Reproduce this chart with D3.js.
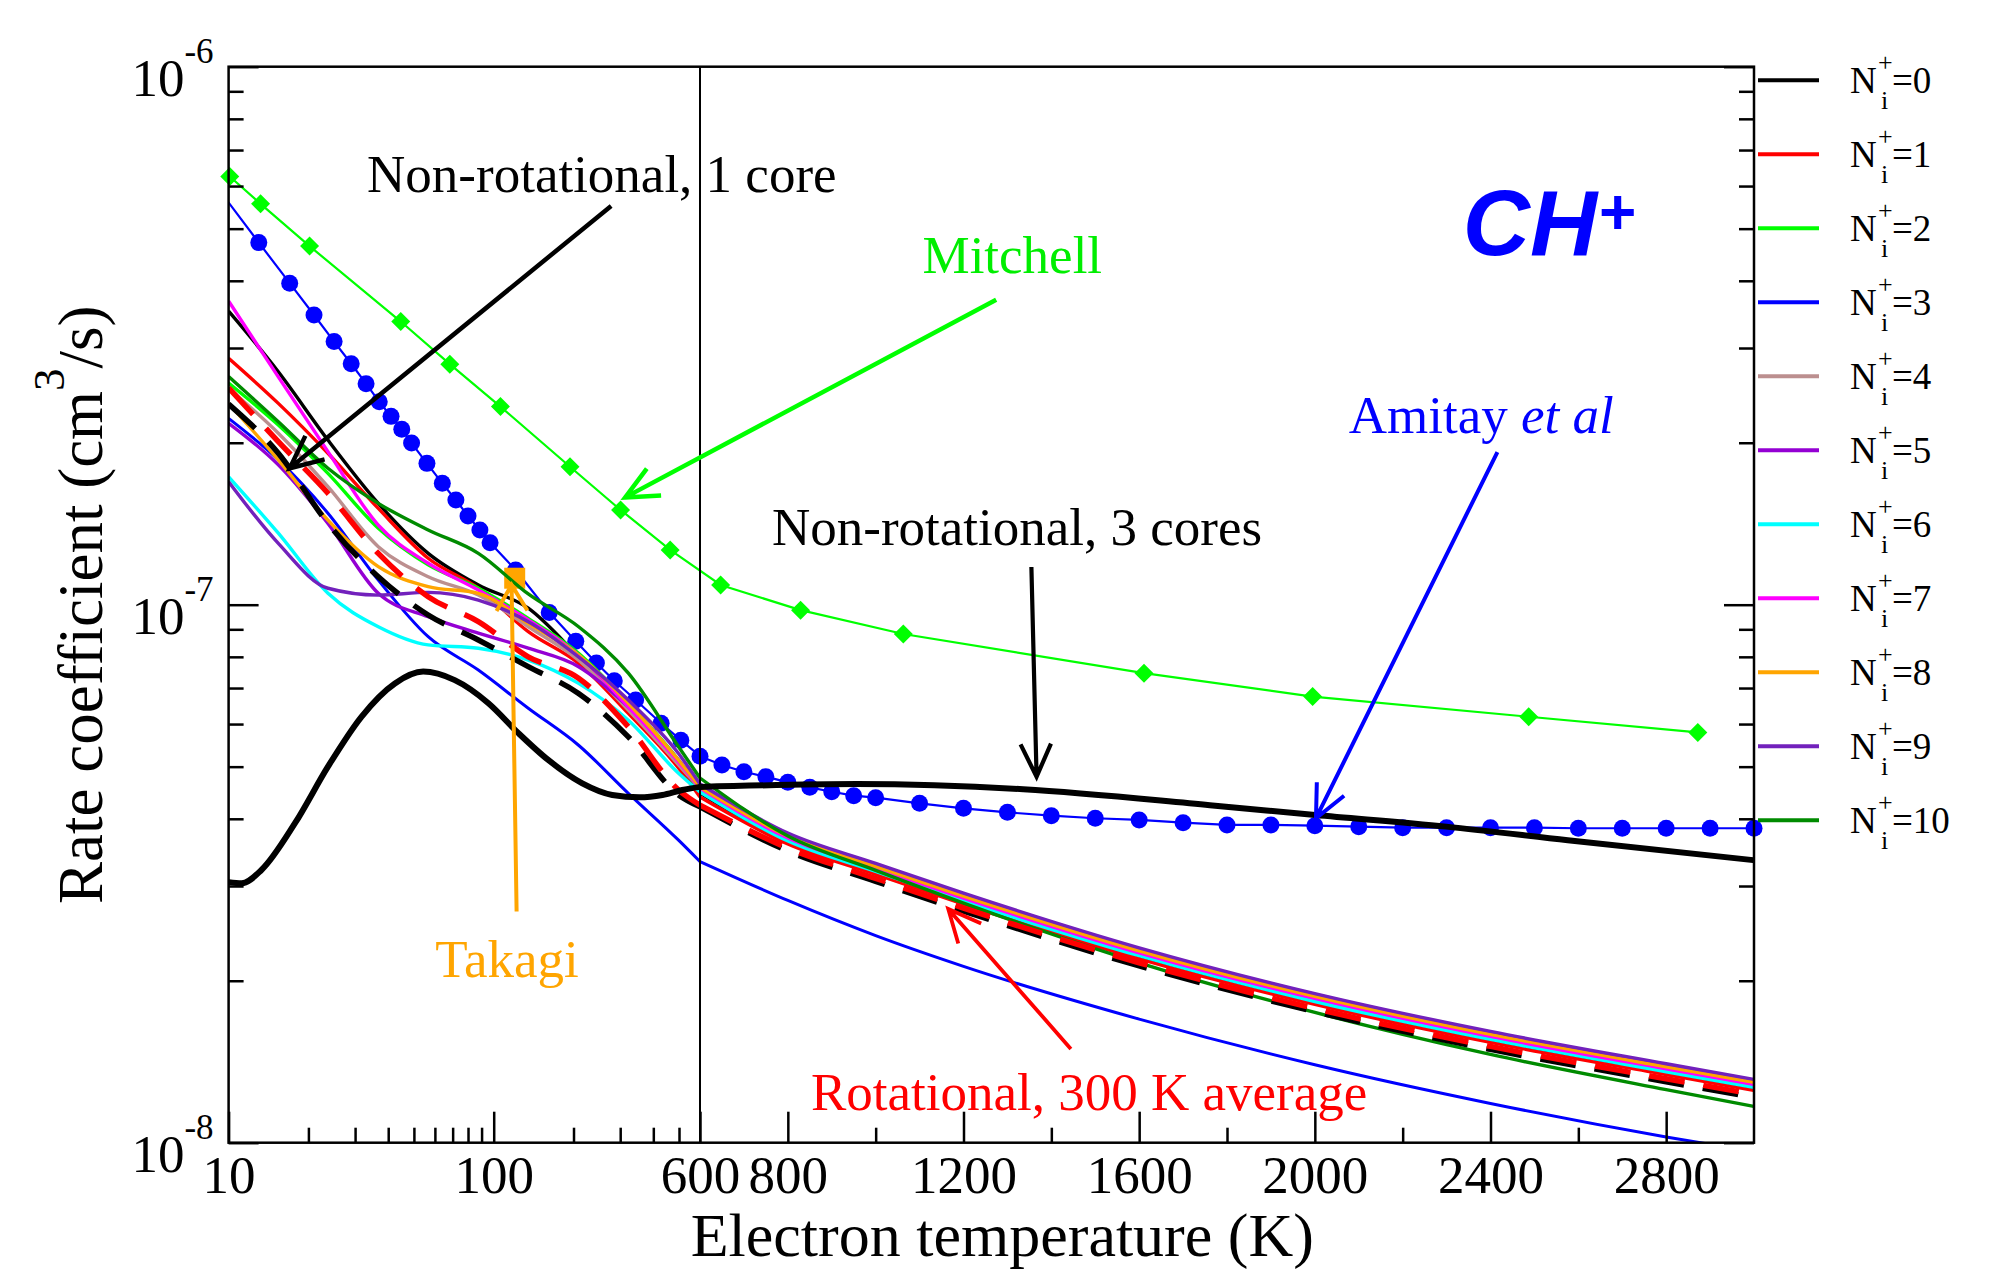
<!DOCTYPE html>
<html>
<head>
<meta charset="utf-8">
<script src="https://cdn.jsdelivr.net/npm/d3@7"></script>
<style>
  html, body { margin: 0; padding: 0; background: #fff; }
  svg { display: block; }
</style>
</head>
<body>
<svg id="chart" width="1990" height="1270"></svg>
<script>
// ---------------- data ----------------
// Electron temperature grid (K) for the N_i^+ curves
const temps = [10, 15.4, 23.7, 36.7, 56.6, 87.5, 135, 209, 322, 498, 600,
               800, 1000, 1200, 1600, 2000, 2400, 2800, 3000];

// Rate coefficients (cm^3/s) for each initial rotational level N_i^+
const rateN0  = [3.513e-7, 2.71e-7, 2.023e-7, 1.543e-7, 1.246e-7, 1.088e-7, 9.85e-8, 8.0e-8, 6.42e-8, 5.04e-8, 4.467e-8,
                 3.622e-8, 3.181e-8, 2.801e-8, 2.216e-8, 1.822e-8, 1.549e-8, 1.349e-8, 1.262e-8];
const rateN1  = [2.871e-7, 2.367e-7, 1.912e-7, 1.51e-7, 1.22e-7, 1.073e-7, 8.91e-8, 7.78e-8, 6.28e-8, 4.97e-8, 4.39e-8,
                 3.591e-8, 3.154e-8, 2.777e-8, 2.197e-8, 1.807e-8, 1.536e-8, 1.338e-8, 1.251e-8];
const rateN2  = [2.582e-7, 2.158e-7, 1.754e-7, 1.387e-7, 1.186e-7, 1.073e-7, 9.43e-8, 8.12e-8, 6.56e-8, 5.14e-8, 4.525e-8,
                 3.653e-8, 3.208e-8, 2.825e-8, 2.235e-8, 1.838e-8, 1.563e-8, 1.361e-8, 1.273e-8];
const rateN3  = [2.22e-7, 1.858e-7, 1.479e-7, 1.111e-7, 8.72e-8, 7.56e-8, 6.42e-8, 5.48e-8, 4.46e-8, 3.65e-8, 3.33e-8,
                 2.82e-8, 2.426e-8, 2.127e-8, 1.697e-8, 1.396e-8, 1.183e-8, 1.025e-8, 9.62e-9];
const rateN4  = [2.525e-7, 2.083e-7, 1.657e-7, 1.282e-7, 1.127e-7, 1.042e-7, 9.10e-8, 7.89e-8, 6.37e-8, 5.04e-8, 4.545e-8,
                 3.669e-8, 3.222e-8, 2.837e-8, 2.245e-8, 1.846e-8, 1.569e-8, 1.367e-8, 1.278e-8];
const rateN5  = [2.174e-7, 1.819e-7, 1.416e-7, 1.05e-7, 9.50e-8, 8.85e-8, 8.30e-8, 7.67e-8, 6.46e-8, 5.14e-8, 4.60e-8,
                 3.748e-8, 3.292e-8, 2.899e-8, 2.293e-8, 1.886e-8, 1.603e-8, 1.396e-8, 1.306e-8];
const rateN6  = [1.729e-7, 1.358e-7, 1.05e-7, 9.10e-8, 8.42e-8, 8.30e-8, 7.89e-8, 7.14e-8, 6.10e-8, 4.86e-8, 4.487e-8,
                 3.637e-8, 3.194e-8, 2.813e-8, 2.226e-8, 1.830e-8, 1.556e-8, 1.355e-8, 1.267e-8];
const rateN7  = [3.667e-7, 2.652e-7, 1.925e-7, 1.406e-7, 1.194e-7, 1.065e-7, 9.37e-8, 8.06e-8, 6.46e-8, 5.105e-8, 4.564e-8,
                 3.684e-8, 3.235e-8, 2.849e-8, 2.254e-8, 1.854e-8, 1.576e-8, 1.372e-8, 1.284e-8];
const rateN8  = [2.366e-7, 1.858e-7, 1.436e-7, 1.177e-7, 1.08e-7, 1.05e-7, 9.23e-8, 8.06e-8, 6.56e-8, 5.14e-8, 4.584e-8,
                 3.716e-8, 3.263e-8, 2.874e-8, 2.274e-8, 1.870e-8, 1.590e-8, 1.384e-8, 1.295e-8];
const rateN9  = [1.693e-7, 1.30e-7, 1.073e-7, 1.042e-7, 1.054e-7, 1.020e-7, 9.30e-8, 8.0e-8, 6.65e-8, 5.29e-8, 4.642e-8,
                 3.763e-8, 3.305e-8, 2.910e-8, 2.303e-8, 1.893e-8, 1.610e-8, 1.402e-8, 1.311e-8];
const rateN10 = [2.655e-7, 2.188e-7, 1.793e-7, 1.543e-7, 1.377e-7, 1.246e-7, 1.047e-7, 9.10e-8, 7.46e-8, 5.445e-8, 4.763e-8,
                 3.716e-8, 3.208e-8, 2.789e-8, 2.16e-8, 1.746e-8, 1.459e-8, 1.255e-8, 1.168e-8];

// Non-rotational, 1 core (black dashed) and rotational 300 K average (red dashed)
const rateNonRot1Core = [2.36e-7, 1.912e-7, 1.416e-7, 1.127e-7, 9.57e-8, 8.60e-8, 7.67e-8, 6.84e-8, 5.68e-8, 4.43e-8, 4.21e-8,
                         3.485e-8, 3.060e-8, 2.695e-8, 2.132e-8, 1.753e-8, 1.491e-8, 1.298e-8, 1.214e-8];
const rateRot300K     = [2.53e-7, 2.01e-7, 1.611e-7, 1.246e-7, 1.035e-7, 9.30e-8, 8.0e-8, 7.30e-8, 5.93e-8, 4.525e-8, 4.24e-8,
                         3.53e-8, 3.10e-8, 2.73e-8, 2.16e-8, 1.776e-8, 1.51e-8, 1.315e-8, 1.23e-8];

// Non-rotational, 3 cores (thick black)
const cores3T = [10, 11.2, 13.3, 17.8, 23.7, 31.7, 42.4, 54.2, 71.3, 95.5, 124, 161, 215, 280, 354, 433, 514, 600,
                 957, 1336, 1761, 2001, 2299, 2576, 3000];
const cores3K = [3.05e-8, 3.035e-8, 3.213e-8, 3.925e-8, 5.0e-8, 6.19e-8, 7.14e-8, 7.51e-8, 7.24e-8, 6.56e-8, 5.77e-8,
                 5.14e-8, 4.66e-8, 4.43e-8, 4.385e-8, 4.43e-8, 4.525e-8, 4.585e-8,
                 4.64e-8, 4.54e-8, 4.24e-8, 4.065e-8, 3.868e-8, 3.65e-8, 3.35e-8];

// Mitchell (green diamonds)
const mitchellT = [10.1, 13.2, 20.2, 44.6, 68.3, 106, 194, 301, 463, 647, 829, 1063, 1611, 1995, 2487, 2872];
const mitchellK = [6.25e-7, 5.56e-7, 4.64e-7, 3.36e-7, 2.80e-7, 2.335e-7, 1.805e-7, 1.50e-7, 1.264e-7, 1.088e-7,
                   9.77e-8, 8.82e-8, 7.46e-8, 6.75e-8, 6.19e-8, 5.79e-8];

// Amitay et al (blue circles)
const amitayT = [9, 13, 17, 21, 25, 29, 33, 37, 41, 45, 49, 56, 64, 72, 80, 88.7, 96.9,
                 121, 162, 204, 244, 285, 343, 428, 508, 600,
                 650, 700, 750, 800, 850, 900, 950, 1000,
                 1100, 1200, 1300, 1400, 1500, 1600, 1700, 1800, 1900, 2000,
                 2100, 2200, 2300, 2400, 2500, 2600, 2700, 2800, 2900, 3000];
const amitayK = [5.99e-7, 4.71e-7, 3.96e-7, 3.455e-7, 3.084e-7, 2.805e-7, 2.575e-7, 2.383e-7, 2.239e-7, 2.119e-7, 1.997e-7,
                 1.831e-7, 1.681e-7, 1.565e-7, 1.462e-7, 1.377e-7, 1.304e-7,
                 1.160e-7, 9.67e-8, 8.55e-8, 7.79e-8, 7.22e-8, 6.65e-8, 6.02e-8, 5.60e-8, 5.23e-8,
                 5.035e-8, 4.893e-8, 4.79e-8, 4.676e-8, 4.577e-8, 4.491e-8, 4.416e-8, 4.378e-8,
                 4.274e-8, 4.183e-8, 4.112e-8, 4.053e-8, 4.009e-8, 3.98e-8, 3.934e-8, 3.896e-8, 3.896e-8, 3.884e-8,
                 3.868e-8, 3.851e-8, 3.851e-8, 3.851e-8, 3.851e-8, 3.841e-8, 3.841e-8, 3.841e-8, 3.841e-8, 3.841e-8];

// Takagi (single orange square)
const takagiT = [120];
const takagiK = [1.12e-7];

// Axis ticks
const xLogMajor = [10, 100, 600];
const xLogMinor = [20, 30, 40, 50, 60, 70, 80, 90, 200, 300, 400, 500];
const xLinMajor = [800, 1200, 1600, 2000, 2400, 2800];
const xLinMinor = [1000, 1400, 1800, 2200, 2600];
const yMajor = [1e-8, 1e-7, 1e-6];
const yMinor = [2e-8, 3e-8, 4e-8, 5e-8, 6e-8, 7e-8, 8e-8, 9e-8, 2e-7, 3e-7, 4e-7, 5e-7, 6e-7, 7e-7, 8e-7, 9e-7];

// Legend entries (N_i^+ value, color)
const levelLabels = ["0", "1", "2", "3", "4", "5", "6", "7", "8", "9", "10"];
const levelColors = ["#000000", "#ff0000", "#00ff00", "#0000ff", "#bc8f8f", "#9400d3",
                     "#00ffff", "#ff00ff", "#ffa500", "#7221bc", "#008b00"];
const levelRates = [rateN0, rateN1, rateN2, rateN3, rateN4, rateN5, rateN6, rateN7, rateN8, rateN9, rateN10];

// ---------------- layout & scales ----------------
const plot = { left: 228.6, split: 700, right: 1754, top: 66.7, bottom: 1142.7 };
const serif = '"Liberation Serif","Times New Roman",Times,serif';

// broken x axis: logarithmic up to 600 K, linear above
const xLog = d3.scaleLog().domain([10, 600]).range([plot.left, plot.split]);
const xLin = d3.scaleLinear().domain([600, 3000]).range([plot.split, plot.right]);
const x = T => (T <= 600 ? xLog(T) : xLin(T));
const y = d3.scaleLog().domain([1e-8, 1e-6]).range([plot.bottom, plot.top]);

const svg = d3.select("#chart");
svg.append("defs").append("clipPath").attr("id", "plotClip")
  .append("rect")
  .attr("x", plot.left).attr("y", plot.top)
  .attr("width", plot.right - plot.left).attr("height", plot.bottom - plot.top);

const smooth = d3.line().x(d => x(d[0])).y(d => y(d[1])).curve(d3.curveMonotoneX);
const straight = d3.line().x(d => x(d[0])).y(d => y(d[1]));

// smooth path drawn as two pieces so the corner at the axis break stays sharp
function brokenPath(T, K) {
  const pts = T.map((t, i) => [t, K[i]]);
  const lo = pts.filter(p => p[0] <= 600);
  const hi = pts.filter(p => p[0] >= 600);
  return (lo.length > 1 ? smooth(lo) : "") + (hi.length > 1 ? smooth(hi) : "");
}

const lines = svg.append("g").attr("clip-path", "url(#plotClip)").attr("fill", "none");
const marks = svg.append("g");

// Mitchell
lines.append("path")
  .attr("d", straight(mitchellT.map((t, i) => [t, mitchellK[i]])))
  .attr("stroke", "#00ff00").attr("stroke-width", 2.2);
marks.selectAll("path.mitchell")
  .data(mitchellT.map((t, i) => [t, mitchellK[i]]))
  .join("path").attr("class", "mitchell")
  .attr("d", d => { const px = x(d[0]), py = y(d[1]), r = 9.5;
    return `M${px},${py - r}L${px + r},${py}L${px},${py + r}L${px - r},${py}Z`; })
  .attr("fill", "#00ff00");

// Amitay et al
lines.append("path")
  .attr("d", straight(amitayT.map((t, i) => [t, amitayK[i]])))
  .attr("stroke", "#0000ff").attr("stroke-width", 2.2);
marks.selectAll("circle.amitay")
  .data(amitayT.map((t, i) => [t, amitayK[i]]).filter(d => d[0] >= 10 && d[0] <= 3000))
  .join("circle").attr("class", "amitay")
  .attr("cx", d => x(d[0])).attr("cy", d => y(d[1])).attr("r", 8.5)
  .attr("fill", "#0000ff");

const curves = svg.append("g").attr("clip-path", "url(#plotClip)").attr("fill", "none");

// N_i^+ = 0..10
levelRates.forEach((K, i) => {
  curves.append("path")
    .attr("d", brokenPath(temps, K))
    .attr("stroke", levelColors[i])
    .attr("stroke-width", i === 3 ? 3 : 3.4)
    .attr("stroke-linejoin", "round");
});

// Non-rotational, 1 core
curves.append("path")
  .attr("d", brokenPath(temps, rateNonRot1Core))
  .attr("stroke", "#000").attr("stroke-width", 5.5)
  .attr("stroke-dasharray", "36,19");

// Rotational, 300 K average
curves.append("path")
  .attr("d", brokenPath(temps, rateRot300K))
  .attr("stroke", "#ff0000").attr("stroke-width", 5.5)
  .attr("stroke-dasharray", "36,19");

// Non-rotational, 3 cores
curves.append("path")
  .attr("d", brokenPath(cores3T, cores3K))
  .attr("stroke", "#000").attr("stroke-width", 6)
  .attr("stroke-linejoin", "round");

// Takagi
marks.selectAll("rect.takagi")
  .data(takagiT.map((t, i) => [t, takagiK[i]]))
  .join("rect").attr("class", "takagi")
  .attr("x", d => x(d[0]) - 10.5).attr("y", d => y(d[1]) - 10.5)
  .attr("width", 21).attr("height", 21)
  .attr("fill", "#ffa500");

// ---------------- axes ----------------
const axes = svg.append("g");
function tidy(sel) {
  sel.select(".domain").remove();
  sel.selectAll(".tick line").attr("stroke", "#000").attr("stroke-width", 2.5);
  sel.selectAll(".tick text").attr("font-family", serif).attr("font-size", 53).attr("fill", "#000");
}

// bottom: minor then major ticks on both parts of the broken axis
axes.append("g").attr("transform", `translate(0,${plot.bottom})`)
  .call(d3.axisBottom(xLog).tickValues(xLogMinor).tickSize(-15).tickSizeOuter(0).tickFormat(""))
  .call(tidy);
axes.append("g").attr("transform", `translate(0,${plot.bottom})`)
  .call(d3.axisBottom(xLin).tickValues(xLinMinor).tickSize(-15).tickSizeOuter(0).tickFormat(""))
  .call(tidy);
axes.append("g").attr("transform", `translate(0,${plot.bottom})`)
  .call(d3.axisBottom(xLog).tickValues(xLogMajor).tickSize(-31).tickSizeOuter(0).tickPadding(13).tickFormat(d3.format("d")))
  .call(tidy);
axes.append("g").attr("transform", `translate(0,${plot.bottom})`)
  .call(d3.axisBottom(xLin).tickValues(xLinMajor).tickSize(-31).tickSizeOuter(0).tickPadding(13).tickFormat(d3.format("d")))
  .call(tidy);

// left and right: decade labels as 10 with superscript exponent
axes.append("g").attr("transform", `translate(${plot.left},0)`)
  .call(d3.axisLeft(y).tickValues(yMinor).tickSize(-15).tickSizeOuter(0).tickFormat(""))
  .call(tidy);
axes.append("g").attr("transform", `translate(${plot.left},0)`)
  .call(d3.axisLeft(y).tickValues(yMajor).tickSize(-30).tickSizeOuter(0).tickPadding(15).tickFormat(""))
  .call(tidy)
  .selectAll(".tick text")
  .attr("dy", 29)
  .each(function (d) {
    const t = d3.select(this);
    t.append("tspan").text("10");
    t.append("tspan").attr("font-size", 35).attr("dy", -33).text(String(Math.round(Math.log10(d))));
  });
axes.append("g").attr("transform", `translate(${plot.right},0)`)
  .call(d3.axisRight(y).tickValues(yMinor).tickSize(-15).tickSizeOuter(0).tickFormat(""))
  .call(tidy);
axes.append("g").attr("transform", `translate(${plot.right},0)`)
  .call(d3.axisRight(y).tickValues(yMajor).tickSize(-30).tickSizeOuter(0).tickFormat(""))
  .call(tidy);

// frame and the break line at 600 K
axes.append("rect")
  .attr("x", plot.left).attr("y", plot.top)
  .attr("width", plot.right - plot.left).attr("height", plot.bottom - plot.top)
  .attr("fill", "none").attr("stroke", "#000").attr("stroke-width", 2.5);
axes.append("line")
  .attr("x1", x(600)).attr("x2", x(600)).attr("y1", plot.top).attr("y2", plot.bottom)
  .attr("stroke", "#000").attr("stroke-width", 2);

// axis titles
svg.append("text")
  .attr("x", (plot.left + plot.right) / 2 + 11).attr("y", 1256)
  .attr("text-anchor", "middle").attr("font-family", serif).attr("font-size", 62)
  .text("Electron temperature (K)");
const yTitle = svg.append("text")
  .attr("transform", `translate(102,${(plot.top + plot.bottom) / 2}) rotate(-90)`)
  .attr("text-anchor", "middle").attr("font-family", serif).attr("font-size", 63);
yTitle.append("tspan").text("Rate coefficient (cm");
yTitle.append("tspan").attr("font-size", 45).attr("dy", -38).text("3");
yTitle.append("tspan").attr("dy", 38).text("/s)");

// ---------------- legend ----------------
const legend = svg.append("g").attr("font-family", serif);
levelLabels.forEach((lab, i) => {
  const ly = 80.3 + 74 * i;
  legend.append("line")
    .attr("x1", 1758).attr("x2", 1819).attr("y1", ly).attr("y2", ly)
    .attr("stroke", levelColors[i]).attr("stroke-width", 4);
  legend.append("text").attr("x", 1850).attr("y", ly + 13).attr("font-size", 37).text("N");
  legend.append("text").attr("x", 1878).attr("y", ly - 9).attr("font-size", 26).text("+");
  legend.append("text").attr("x", 1881).attr("y", ly + 29).attr("font-size", 26).text("i");
  legend.append("text").attr("x", 1892).attr("y", ly + 13).attr("font-size", 37).text("=" + lab);
});

// ---------------- annotations ----------------
const notes = svg.append("g").attr("font-family", serif).attr("font-size", 53);
function label(T, K, txt, color) {
  return notes.append("text").attr("x", x(T)).attr("y", y(K)).attr("fill", color).text(txt);
}
function arrow(from, to, color, width, len = 36, halfAngle = 25) {
  const x0 = x(from[0]), y0 = y(from[1]), x1 = x(to[0]), y1 = y(to[1]);
  const back = Math.atan2(y0 - y1, x0 - x1), a = halfAngle * Math.PI / 180;
  const w1 = [x1 + len * Math.cos(back + a), y1 + len * Math.sin(back + a)];
  const w2 = [x1 + len * Math.cos(back - a), y1 + len * Math.sin(back - a)];
  notes.append("path")
    .attr("d", `M${x0},${y0}L${x1},${y1}M${w1[0]},${w1[1]}L${x1},${y1}L${w2[0]},${w2[1]}`)
    .attr("fill", "none").attr("stroke", color).attr("stroke-width", width);
}

label(33.3, 5.86e-7, "Non-rotational, 1 core", "#000");
arrow([277.3, 5.51e-7], [17.0, 1.793e-7], "#000", 4.5);

label(1106.7, 4.13e-7, "Mitchell", "#00ee00");
arrow([1274.4, 3.69e-7], [313.2, 1.583e-7], "#00ff00", 4.5);

label(763.9, 1.291e-7, "Non-rotational, 3 cores", "#000");
arrow([1354.6, 1.175e-7], [1366.4, 4.79e-8], "#000", 4.2);

const am = label(2077.2, 2.083e-7, "Amitay ", "#0000ff");
am.append("tspan").attr("font-style", "italic").text("et al");
arrow([2415.7, 1.922e-7], [2002.6, 4.01e-8], "#0000ff", 4);

label(60.2, 2.035e-8, "Takagi", "#ffa500");
arrow([122, 2.69e-8], [116.8, 1.088e-7], "#ffa500", 4, 30, 31);

label(852.7, 1.15e-8, "Rotational, 300 K average", "#ff0000");
arrow([1444.5, 1.494e-8], [1165.2, 2.72e-8], "#ff0000", 3.8);

// molecule name, with the charge drawn as its own text just after it
const sans = '"Liberation Sans",Arial,Helvetica,sans-serif';
const chName = svg.append("text")
  .attr("x", x(2336.8)).attr("y", 255)
  .attr("font-family", sans).attr("font-weight", "bold").attr("font-style", "italic")
  .attr("font-size", 93).attr("fill", "#0000ff")
  .text("CH");
const chWidth = chName.node().getComputedTextLength();
svg.append("text")
  .attr("x", x(2336.8) + chWidth + 2).attr("y", 234)
  .attr("font-family", sans).attr("font-weight", "bold")
  .attr("font-size", 64).attr("fill", "#0000ff")
  .text("+");
</script>
</body>
</html>
